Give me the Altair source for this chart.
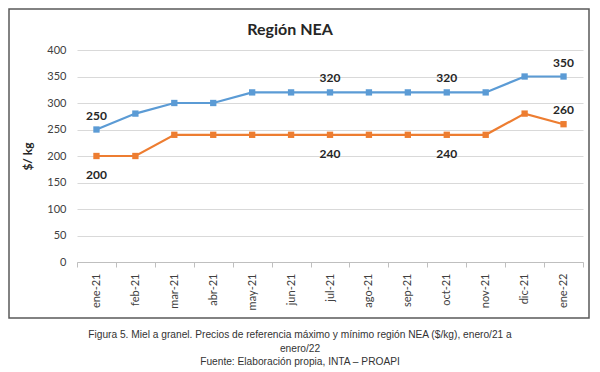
import altair as alt
import pandas as pd

months = ["ene-21", "feb-21", "mar-21", "abr-21", "may-21", "jun-21", "jul-21",
          "ago-21", "sep-21", "oct-21", "nov-21", "dic-21", "ene-22"]
max_prices = [250, 280, 300, 300, 320, 320, 320, 320, 320, 320, 320, 350, 350]
min_prices = [200, 200, 240, 240, 240, 240, 240, 240, 240, 240, 240, 280, 260]
y_ticks = [0, 50, 100, 150, 200, 250, 300, 350, 400]

# labelled points
labels_above_max = ["ene-21", "jul-21", "oct-21", "ene-22"]
labels_below_min = ["ene-21", "jul-21", "oct-21"]
labels_above_min = ["ene-22"]

title_text = "Región NEA"
caption_lines = [
    "Figura 5. Miel a granel. Precios de referencia máximo y mínimo región NEA ($/kg), enero/21 a",
    "enero/22",
    "Fuente: Elaboración propia, INTA – PROAPI",
]

BLUE = "#5B9BD5"
ORANGE = "#ED7D31"
FONT = "Lato"

df = pd.DataFrame({
    "mes": months * 2,
    "precio": max_prices + min_prices,
    "serie": ["max"] * len(months) + ["min"] * len(months),
})


def subset(serie, which):
    d = df[(df["serie"] == serie) & (df["mes"].isin(which))]
    return d.reset_index(drop=True)


W, H = 506, 212

x_enc = alt.X("mes:N", sort=months, scale=alt.Scale(paddingInner=0, paddingOuter=0),
              axis=alt.Axis(title=None, labelAngle=270, labelAlign="right", labelBaseline="middle",
                            labelFont=FONT, labelFontSize=11, labelColor="#404040", labelPadding=6,
                            domainColor="#BFBFBF", tickColor="#BFBFBF", tickSize=5,
                            tickBand="extent", grid=False, labelOverlap=False))
y_enc = alt.Y("precio:Q", scale=alt.Scale(domain=[0, 400]),
              axis=alt.Axis(title="$/ kg", values=y_ticks, titleFont=FONT,
                            titleFontSize=12, titleFontWeight="bold", titleColor="#262626",
                            titlePadding=12, labelFont=FONT, labelFontSize=11, labelColor="#404040",
                            labelPadding=11, domain=False, ticks=False, gridColor="#D9D9D9",
                            labelOverlap=False))
color_enc = alt.Color("serie:N", scale=alt.Scale(domain=["max", "min"], range=[BLUE, ORANGE]),
                      legend=None)

base = alt.Chart(df)
lines = base.mark_line(strokeWidth=2.2).encode(x=x_enc, y=y_enc, color=color_enc)
points = base.mark_square(size=40, opacity=1).encode(x=x_enc, y=y_enc, color=color_enc)

lab_style = dict(font=FONT, fontSize=12, fontWeight="bold", color="#262626")
above_max = alt.Chart(subset("max", labels_above_max)).mark_text(dy=-14, **lab_style).encode(
    x=x_enc, y=y_enc, text="precio:Q")
below_min = alt.Chart(subset("min", labels_below_min)).mark_text(dy=19, **lab_style).encode(
    x=x_enc, y=y_enc, text="precio:Q")
above_min = alt.Chart(subset("min", labels_above_min)).mark_text(dy=-14, **lab_style).encode(
    x=x_enc, y=y_enc, text="precio:Q")

one = pd.DataFrame({"t": [title_text]})
title = alt.Chart(one).mark_text(font=FONT, fontSize=16, fontWeight="bold", color="#262626",
                                 align="center", baseline="middle").encode(
    x=alt.value(213), y=alt.value(-20), text="t:N")

cap_layers = []
for line, ypos in zip(caption_lines, [285, 299, 312]):
    cap_layers.append(
        alt.Chart(pd.DataFrame({"t": [line]})).mark_text(
            font="Liberation Sans", fontSize=10.2, color="#333333", align="center",
            baseline="middle").encode(x=alt.value(223), y=alt.value(ypos), text="t:N"))

border = alt.Chart(one).mark_rect(fill=None, stroke="#595959", strokeWidth=1.5).encode(
    x=alt.value(-68), x2=alt.value(512), y=alt.value(-41), y2=alt.value(268))

chart = alt.layer(lines, points, above_max, below_min, above_min, title, *cap_layers,
                  border).properties(
    width=W, height=H,
    autosize=alt.AutoSizeParams(type="none"),
    padding={"left": 69, "top": 42, "right": 9, "bottom": 110},
    background="white",
).configure_view(stroke=None)

chart.save("out.html", embed_options={"renderer": "svg", "actions": False})
